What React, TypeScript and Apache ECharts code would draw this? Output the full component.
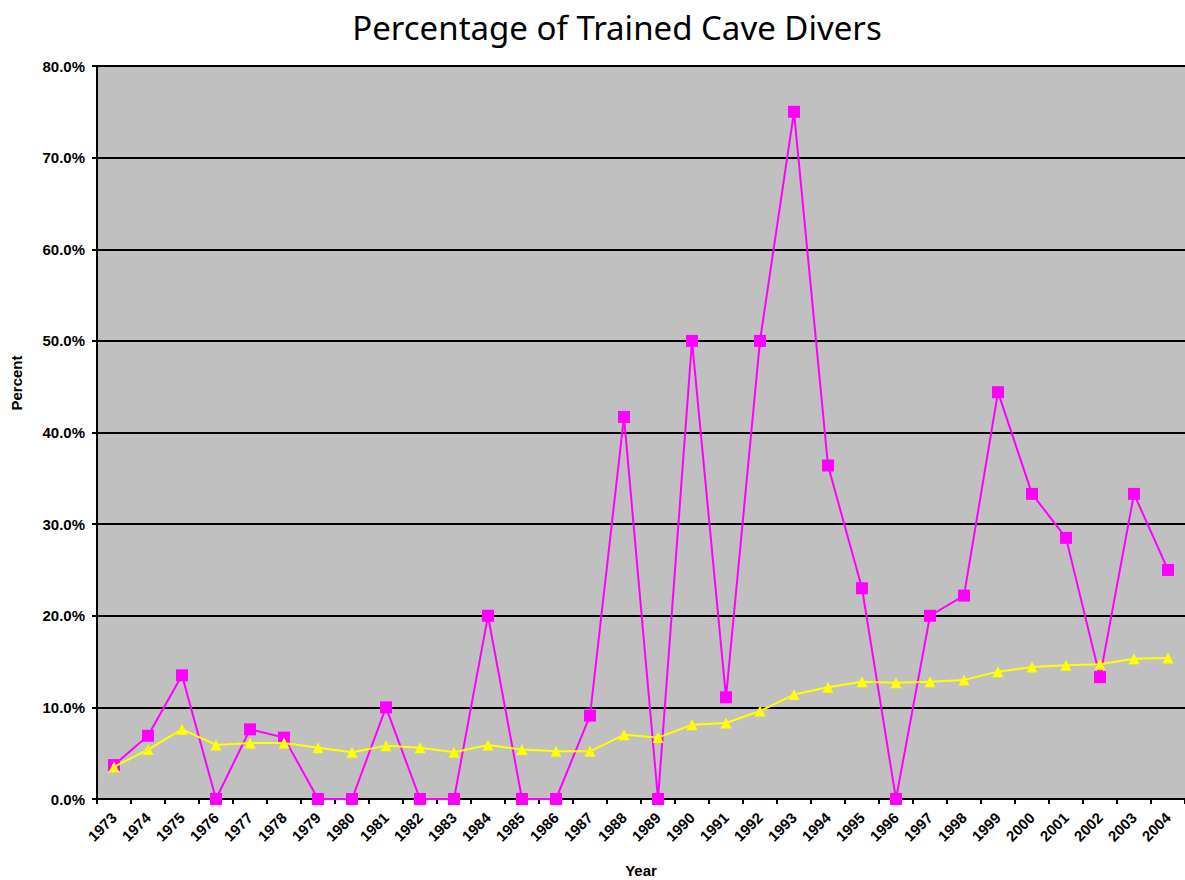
import React, { useEffect, useRef } from "react";
import * as echarts from "echarts";

const years = [
  "1973", "1974", "1975", "1976", "1977", "1978", "1979", "1980",
  "1981", "1982", "1983", "1984", "1985", "1986", "1987", "1988",
  "1989", "1990", "1991", "1992", "1993", "1994", "1995", "1996",
  "1997", "1998", "1999", "2000", "2001", "2002", "2003", "2004",
];

const trainedPercent = [
  3.7, 6.9, 13.5, 0, 7.6, 6.7, 0, 0,
  10.0, 0, 0, 20.0, 0, 0, 9.1, 41.7,
  0, 50.0, 11.1, 50.0, 75.0, 36.4, 23.0, 0,
  20.0, 22.2, 44.4, 33.3, 28.5, 13.3, 33.3, 25.0,
];

const averagePercent = [
  3.5, 5.4, 7.6, 5.9, 6.1, 6.1, 5.6, 5.1,
  5.8, 5.6, 5.1, 5.9, 5.4, 5.2, 5.2, 7.0,
  6.7, 8.1, 8.3, 9.6, 11.4, 12.2, 12.8, 12.7,
  12.8, 13.0, 13.9, 14.4, 14.6, 14.7, 15.3, 15.4,
];

const titleText = "Percentage of Trained Cave Divers";
const yAxisTitle = "Percent";
const xAxisTitle = "Year";

export default function App() {
  const ref = useRef<HTMLDivElement>(null);

  useEffect(() => {
    if (!ref.current) return;
    const chart = echarts.init(ref.current, null, { renderer: "svg" });
    const axisFont = {
      fontFamily: "'Liberation Sans', Arial, sans-serif",
      fontWeight: "bold" as const,
      fontSize: 15,
      color: "#000",
    };
    chart.setOption({
      animation: false,
      backgroundColor: "#fff",
      grid: {
        left: 97,
        right: 0,
        top: 66,
        bottom: 81,
        show: true,
        backgroundColor: "#c0c0c0",
        borderWidth: 0,
      },
      graphic: [
        {
          type: "text",
          x: 617,
          y: 27,
          style: {
            text: titleText,
            fontFamily: "'Noto Sans', 'Open Sans', sans-serif",
            fontSize: 33,
            fill: "#000",
            align: "center",
            verticalAlign: "middle",
          },
        },
        {
          type: "text",
          x: 16,
          y: 383,
          rotation: Math.PI / 2,
          style: {
            text: yAxisTitle,
            fontFamily: axisFont.fontFamily,
            fontWeight: "bold",
            fontSize: 15,
            fill: "#000",
            align: "center",
            verticalAlign: "middle",
          },
        },
        {
          type: "text",
          x: 641,
          y: 870,
          style: {
            text: xAxisTitle,
            fontFamily: axisFont.fontFamily,
            fontWeight: "bold",
            fontSize: 15,
            fill: "#000",
            align: "center",
            verticalAlign: "middle",
          },
        },
      ],
      xAxis: {
        type: "category",
        data: years,
        boundaryGap: true,
        axisLine: { show: true, lineStyle: { color: "#000", width: 2 } },
        axisTick: {
          show: true,
          alignWithLabel: false,
          length: 5,
          lineStyle: { color: "#000", width: 2 },
        },
        axisLabel: {
          ...axisFont,
          interval: 0,
          rotate: 45,
          margin: 16,
        },
        splitLine: { show: false },
      },
      yAxis: {
        type: "value",
        min: 0,
        max: 80,
        interval: 10,
        axisLine: { show: true, lineStyle: { color: "#000", width: 2 } },
        axisTick: {
          show: true,
          length: 5,
          lineStyle: { color: "#000", width: 2 },
        },
        axisLabel: {
          ...axisFont,
          margin: 12,
          formatter: (v: number) => `${v.toFixed(1)}%`,
        },
        splitLine: { show: true, lineStyle: { color: "#000", width: 2 } },
      },
      series: [
        {
          name: "Trained",
          type: "line",
          data: trainedPercent,
          symbol: "rect",
          symbolSize: 12,
          lineStyle: { color: "#ff00ff", width: 2 },
          itemStyle: { color: "#ff00ff" },
          z: 2,
        },
        {
          name: "Average",
          type: "line",
          data: averagePercent,
          symbol: "triangle",
          symbolSize: 11,
          lineStyle: { color: "#ffff00", width: 2 },
          itemStyle: { color: "#ffff00" },
          z: 3,
        },
      ],
    });
    return () => chart.dispose();
  }, []);

  return (
    <div
      ref={ref}
      style={{ position: "fixed", left: 0, top: 0, width: 1185, height: 880 }}
    />
  );
}
